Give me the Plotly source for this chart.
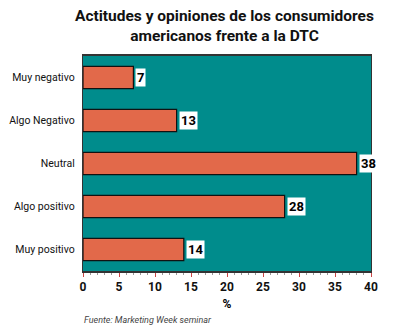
import plotly.graph_objects as go

categories = ["Muy negativo", "Algo Negativo", "Neutral", "Algo positivo", "Muy positivo"]
values = [7, 13, 38, 28, 14]
x_ticks = [0, 5, 10, 15, 20, 25, 30, 35, 40]

FONT = "Roboto, DejaVu Sans, sans-serif"

fig = go.Figure()
fig.add_trace(go.Bar(
    y=categories, x=values, orientation="h",
    marker=dict(color="#e2694a", line=dict(color="#111111", width=1.2)),
    width=0.52, hoverinfo="skip",
))

for c, v in zip(categories, values):
    fig.add_annotation(x=v, y=c, text="<b>%d</b>" % v, showarrow=False,
                       xanchor="left", xshift=2, bgcolor="white",
                       font=dict(family=FONT, size=13, color="black"),
                       borderpad=1)

fig.update_layout(
    width=403, height=331,
    margin=dict(l=83, r=32, t=56, b=60),
    paper_bgcolor="white", plot_bgcolor="#008c8c",
    showlegend=False,
    font=dict(family=FONT, color="black"),
    xaxis=dict(range=[0, 40], tickvals=x_ticks,
               ticktext=["<b>%d</b>" % t for t in x_ticks],
               ticks="outside", ticklen=4,
               tickcolor="#cc4444", tickfont=dict(size=12, family=FONT, color="#111111"),
               showgrid=False, zeroline=False, showline=True, linecolor="#333333",
               linewidth=2, mirror=True, automargin=False,
               minor=dict(dtick=1, ticks="outside", ticklen=2, tickcolor="#999999"),
               title=dict(text="<b>%</b>", font=dict(size=12, family=FONT), standoff=6)),
    yaxis=dict(autorange="reversed", ticks="", showgrid=False, zeroline=False,
               showline=True, linecolor="#333333", linewidth=1, mirror=True,
               automargin=False,
               tickfont=dict(size=10.5, family=FONT, color="#111111"), ticksuffix="  "),
)

fig.add_annotation(text="<b>Actitudes y opiniones de los consumidores<br>americanos frente a la DTC</b>",
                   xref="paper", yref="paper", x=0.49, y=1.235,
                   xanchor="center", yanchor="top", showarrow=False,
                   font=dict(family=FONT, size=15.5, color="#111111"))

fig.add_annotation(text="<i>Fuente: Marketing Week seminar</i>", xref="paper", yref="paper",
                   x=-0.005, y=-0.195, xanchor="left", yanchor="top", showarrow=False,
                   font=dict(family=FONT, size=9, color="#444444"))

fig.write_html("out.html")
